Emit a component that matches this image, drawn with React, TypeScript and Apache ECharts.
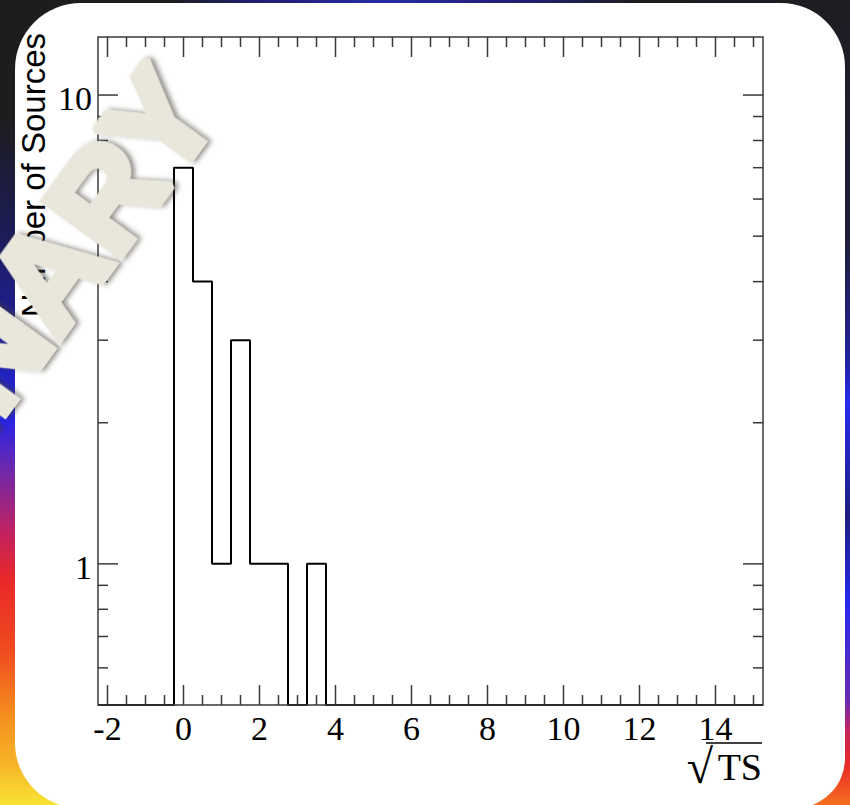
import React, { useEffect, useRef } from 'react';
import * as echarts from 'echarts';

// Histogram of sqrt(TS): bin edges and number of sources per bin
const binEdges = [-0.25, 0.25, 0.75, 1.25, 1.75, 2.25, 2.75, 3.25, 3.75];
const sourceCounts = [7, 4, 1, 3, 1, 1, 0, 1];

// Axis ranges and tick positions
const X_MIN = -2.25;
const X_MAX = 15.25;
const Y_MIN = 0.5;
const Y_MAX = 13.3;
const xLabelValues = [-2, 0, 2, 4, 6, 8, 10, 12, 14];
const xMinorTickValues = [
  -1.5, -1, -0.5, 0.5, 1, 1.5, 2.5, 3, 3.5, 4.5, 5, 5.5, 6.5, 7, 7.5, 8.5, 9, 9.5,
  10.5, 11, 11.5, 12.5, 13, 13.5, 14.5, 15,
];
const yLabelValues = [1, 10];
const yMinorTickValues = [0.6, 0.7, 0.8, 0.9, 2, 3, 4, 5, 6, 7, 8, 9];

const AXIS_COLOR = '#3a3a3a';
const SERIF = '"Liberation Serif", "DejaVu Serif", serif';
const SANS = '"Liberation Sans", Arial, sans-serif';
const STAMP = '#e9e7dc';

export default function App() {
  const ref = useRef<HTMLDivElement>(null);

  useEffect(() => {
    if (!ref.current) return;
    const chart = echarts.init(ref.current, null, { renderer: 'svg' });

    // Step outline: each point holds its count until the next bin edge.
    const histData: number[][] = [[X_MIN, Y_MIN]];
    sourceCounts.forEach((c, i) => histData.push([binEdges[i], Math.max(c, Y_MIN)]));
    histData.push([binEdges[binEdges.length - 1], Y_MIN]);
    histData.push([X_MAX, Y_MIN]);

    const line = (x1: number, y1: number, x2: number, y2: number) => ({
      type: 'line',
      shape: { x1, y1, x2, y2 },
      style: { stroke: AXIS_COLOR, lineWidth: 1.5 },
    });

    const option: any = {
      animation: false,
      backgroundColor: '#1d1d1f',
      grid: { left: 98, top: 37, width: 665, height: 668, show: false },
      xAxis: {
        type: 'value',
        min: X_MIN,
        max: X_MAX,
        axisLine: { show: false },
        axisTick: { show: false },
        splitLine: { show: false },
        axisLabel: {
          customValues: xLabelValues,
          margin: 6,
          fontFamily: SERIF,
          fontSize: 34,
          color: '#000',
        },
      },
      yAxis: {
        type: 'log',
        logBase: 10,
        min: Y_MIN,
        max: Y_MAX,
        axisLine: { show: false },
        axisTick: { show: false },
        splitLine: { show: false },
        axisLabel: { show: false },
      },
      graphic: [
        // slide backdrop
        {
          type: 'rect',
          z: -5,
          shape: { x: 0, y: 0, width: 850, height: 12 },
          style: {
            fill: new echarts.graphic.LinearGradient(0, 0, 1, 0, [
              { offset: 0, color: '#1d1d1f' },
              { offset: 0.2, color: '#1d1d1f' },
              { offset: 0.3, color: '#1f1f70' },
              { offset: 0.45, color: '#2a2aa8' },
              { offset: 0.62, color: '#1f1f70' },
              { offset: 0.75, color: '#1d1d1f' },
              { offset: 0.95, color: '#1d1d2a' },
              { offset: 1, color: '#22224a' },
            ]),
          },
        },
        {
          type: 'rect',
          z: -5,
          shape: { x: 0, y: 0, width: 90, height: 805 },
          style: {
            fill: new echarts.graphic.LinearGradient(0, 0, 0, 1, [
              { offset: 0, color: '#1d1d1f' },
              { offset: 0.15, color: '#1d1d1f' },
              { offset: 0.3, color: '#1c1c5c' },
              { offset: 0.42, color: '#2020a0' },
              { offset: 0.52, color: '#2424e6' },
              { offset: 0.58, color: '#6a28b0' },
              { offset: 0.66, color: '#c02262' },
              { offset: 0.72, color: '#e82828' },
              { offset: 0.81, color: '#f04c20' },
              { offset: 0.89, color: '#f5901e' },
              { offset: 0.95, color: '#f7b428' },
              { offset: 1, color: '#f8e432' },
            ]),
          },
        },
        {
          type: 'rect',
          z: -5,
          shape: { x: 770, y: 0, width: 80, height: 805 },
          style: {
            fill: new echarts.graphic.LinearGradient(0, 0, 0, 1, [
              { offset: 0, color: '#1d1d22' },
              { offset: 0.3, color: '#1e1e38' },
              { offset: 0.45, color: '#2222a0' },
              { offset: 0.5, color: '#2a2aee' },
              { offset: 0.64, color: '#1e1e80' },
              { offset: 0.75, color: '#2828ee' },
              { offset: 0.87, color: '#6a2ab0' },
              { offset: 0.91, color: '#c8245a' },
              { offset: 0.95, color: '#e82a28' },
              { offset: 1, color: '#f57020' },
            ]),
          },
        },
        // white panel
        {
          type: 'rect',
          z: -4,
          shape: { x: 15, y: 3, width: 830, height: 805, r: [66, 64, 50, 65] },
          style: { fill: '#ffffff' },
        },
        // y axis title
        {
          type: 'text',
          z: 5,
          x: 33,
          y: 33,
          rotation: Math.PI / 2,
          style: {
            text: 'Number of Sources',
            textAlign: 'right',
            textVerticalAlign: 'middle',
            fontFamily: SANS,
            fontSize: 33,
            fill: '#000',
          },
        },
        // x axis title: sqrt(TS) with overbar
        {
          type: 'text',
          z: 5,
          x: 713,
          y: 766,
          style: {
            text: '√',
            textAlign: 'right',
            textVerticalAlign: 'middle',
            fontFamily: SERIF,
            fontSize: 48,
            fill: '#000',
          },
        },
        {
          type: 'text',
          z: 5,
          x: 762,
          y: 767,
          style: {
            text: 'TS',
            textAlign: 'right',
            textVerticalAlign: 'middle',
            fontFamily: SERIF,
            fontSize: 38,
            fill: '#000',
          },
        },
        {
          type: 'line',
          z: 5,
          shape: { x1: 706, y1: 743, x2: 762, y2: 743 },
          style: { stroke: '#000', lineWidth: 1.5 },
        },
        // watermark
        {
          type: 'text',
          z: 50,
          x: 185,
          y: 86,
          rotation: (54 * Math.PI) / 180,
          style: {
            text: 'PRELIMINARY',
            textAlign: 'right',
            textVerticalAlign: 'middle',
            fontFamily: SANS,
            fontWeight: 'bold',
            fontSize: 136,
            fill: STAMP,
            stroke: STAMP,
            lineWidth: 8,
            lineJoin: 'round',
            textShadowColor: 'rgba(60,58,50,0.55)',
            textShadowBlur: 5,
            textShadowOffsetX: 3,
            textShadowOffsetY: 3,
          },
        },
      ],
      series: [
        {
          type: 'line',
          step: 'end',
          data: histData,
          symbol: 'none',
          z: 3,
          lineStyle: { color: '#000', width: 2 },
          silent: true,
        },
        {
          type: 'custom',
          coordinateSystem: 'cartesian2d',
          data: [[0, 1]],
          clip: false,
          silent: true,
          z: 4,
          renderItem: (params: any, api: any) => {
            const [left, bottom] = api.coord([X_MIN, Y_MIN]);
            const [right, top] = api.coord([X_MAX, Y_MAX]);
            const children: any[] = [
              {
                type: 'rect',
                shape: { x: left, y: top, width: right - left, height: bottom - top },
                style: { fill: 'none', stroke: AXIS_COLOR, lineWidth: 1.5 },
              },
            ];
            const xTick = (v: number, len: number) => {
              const x = api.coord([v, Y_MIN])[0];
              children.push(line(x, bottom, x, bottom - len));
              children.push(line(x, top, x, top + len));
            };
            const yTick = (v: number, len: number) => {
              const y = api.coord([X_MIN, v])[1];
              children.push(line(left, y, left + len, y));
              children.push(line(right, y, right - len, y));
            };
            xLabelValues.forEach((v) => xTick(v, 20));
            xMinorTickValues.forEach((v) => xTick(v, 10));
            yLabelValues.forEach((v) => {
              yTick(v, 20);
              const y = api.coord([X_MIN, v])[1];
              children.push({
                type: 'text',
                x: left - 6,
                y: y + 3.5,
                style: {
                  text: String(v),
                  textAlign: 'right',
                  textVerticalAlign: 'middle',
                  fontFamily: SERIF,
                  fontSize: 34,
                  fill: '#000',
                },
              });
            });
            yMinorTickValues.forEach((v) => yTick(v, 10));
            return { type: 'group', children };
          },
        },
      ],
    };

    chart.setOption(option);
    return () => chart.dispose();
  }, []);

  return (
    <div
      ref={ref}
      style={{ position: 'fixed', left: 0, top: 0, width: 850, height: 805, background: '#1d1d1f' }}
    />
  );
}
